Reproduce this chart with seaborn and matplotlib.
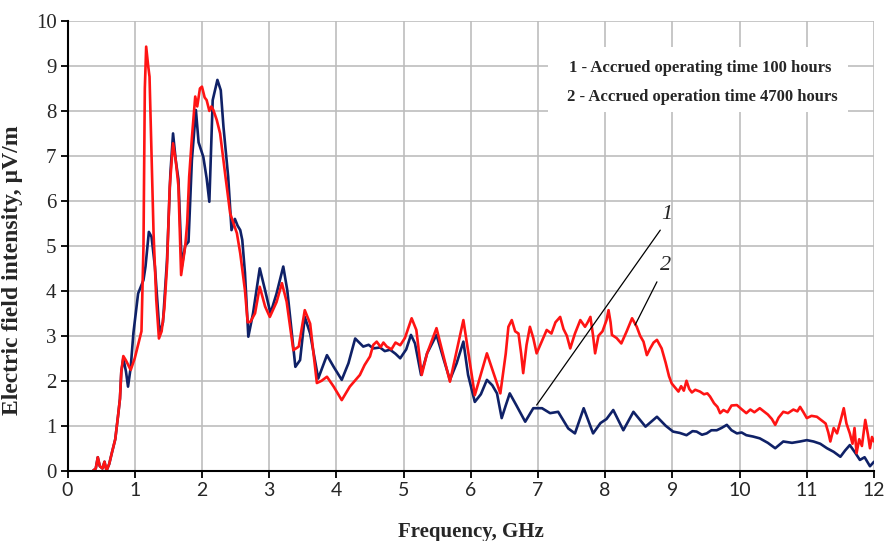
import matplotlib
matplotlib.use("Agg")
import matplotlib.pyplot as plt
from matplotlib import font_manager
from matplotlib.patches import Rectangle
import numpy as np
import pandas as pd
import seaborn as sns

# Spectrum after 100 hours of accrued operating time (curve 1)
freq_100h = [0.38, 0.42, 0.45, 0.48, 0.52, 0.55, 0.58, 0.62, 0.66, 0.71, 0.75, 0.78,
             0.80, 0.83, 0.87, 0.90, 0.94, 0.98, 1.05, 1.13, 1.16, 1.21, 1.25, 1.30,
             1.37, 1.42, 1.48, 1.53, 1.57, 1.61, 1.65, 1.70, 1.75, 1.80, 1.85, 1.91,
             1.95, 2.02, 2.07, 2.11, 2.16, 2.23, 2.28, 2.32, 2.39, 2.44, 2.49, 2.53,
             2.57, 2.60, 2.64, 2.69, 2.76, 2.86, 2.94, 3.02, 3.11, 3.21, 3.27, 3.39,
             3.46, 3.53, 3.61, 3.73, 3.86, 3.96, 4.08, 4.18, 4.28, 4.34, 4.40, 4.48,
             4.55, 4.65, 4.72, 4.80, 4.88, 4.95, 5.04, 5.11, 5.17, 5.26, 5.35, 5.49,
             5.60, 5.69, 5.79, 5.89, 5.96, 6.06, 6.15, 6.24, 6.32, 6.39, 6.46, 6.52,
             6.58, 6.68, 6.81, 6.93, 7.06, 7.18, 7.30, 7.45, 7.55, 7.68, 7.82, 7.93,
             8.02, 8.12, 8.27, 8.42, 8.60, 8.77, 8.90, 9.01, 9.11, 9.21, 9.30, 9.36,
             9.44, 9.51, 9.58, 9.66, 9.73, 9.81, 9.88, 9.96, 10.03, 10.10, 10.20,
             10.30, 10.42, 10.53, 10.65, 10.78, 10.90, 11.00, 11.10, 11.20, 11.30,
             11.40, 11.50, 11.57, 11.64, 11.72, 11.79, 11.86, 11.94, 12.00]
field_100h = [0.00, 0.05, 0.30, 0.10, 0.05, 0.20, 0.00, 0.15, 0.40, 0.70, 1.20, 1.60,
              2.20, 2.50, 2.20, 1.87, 2.30, 3.06, 3.94, 4.24, 4.54, 5.31, 5.20, 4.54,
              3.05, 3.30, 4.68, 6.60, 7.50, 6.90, 6.48, 4.54, 5.00, 5.09, 6.90, 8.02,
              7.30, 6.98, 6.50, 5.98, 8.24, 8.69, 8.46, 7.65, 6.54, 5.35, 5.60, 5.45,
              5.35, 5.13, 4.40, 2.98, 3.50, 4.50, 4.01, 3.50, 3.94, 4.54, 4.01, 2.31,
              2.46, 3.42, 3.05, 2.05, 2.57, 2.31, 2.02, 2.39, 2.94, 2.85, 2.76, 2.80,
              2.72, 2.74, 2.66, 2.69, 2.60, 2.50, 2.70, 3.02, 2.83, 2.13, 2.61, 3.02,
              2.46, 2.02, 2.39, 2.87, 2.13, 1.53, 1.70, 2.02, 1.90, 1.72, 1.17, 1.45,
              1.72, 1.45, 1.09, 1.39, 1.39, 1.28, 1.31, 0.94, 0.83, 1.39, 0.83, 1.06,
              1.15, 1.35, 0.90, 1.31, 0.98, 1.20, 1.00, 0.87, 0.84, 0.79, 0.88, 0.87,
              0.80, 0.83, 0.90, 0.90, 0.95, 1.02, 0.90, 0.83, 0.85, 0.79, 0.76,
              0.72, 0.62, 0.50, 0.65, 0.62, 0.65, 0.68, 0.65, 0.60, 0.50,
              0.42, 0.31, 0.45, 0.57, 0.40, 0.24, 0.30, 0.10, 0.20]

# Spectrum after 4700 hours of accrued operating time (curve 2)
freq_4700h = [0.38, 0.42, 0.45, 0.48, 0.52, 0.55, 0.58, 0.62, 0.66, 0.71, 0.75, 0.78,
              0.80, 0.83, 0.87, 0.94, 1.00, 1.05, 1.10, 1.13, 1.15, 1.17, 1.20, 1.22,
              1.25, 1.28, 1.32, 1.36, 1.40, 1.44, 1.48, 1.52, 1.57, 1.61, 1.65, 1.69,
              1.75, 1.78, 1.81, 1.85, 1.90, 1.93, 1.97, 2.00, 2.04, 2.07, 2.11, 2.14,
              2.17, 2.22, 2.27, 2.35, 2.42, 2.47, 2.52, 2.57, 2.64, 2.68, 2.72, 2.79,
              2.86, 2.94, 3.01, 3.11, 3.19, 3.26, 3.36, 3.44, 3.53, 3.61, 3.71, 3.78,
              3.86, 3.96, 4.08, 4.20, 4.35, 4.42, 4.50, 4.55, 4.60, 4.66, 4.70, 4.75,
              4.82, 4.88, 4.95, 5.02, 5.12, 5.19, 5.27, 5.35, 5.49, 5.69, 5.89, 6.06,
              6.24, 6.44, 6.52, 6.56, 6.61, 6.66, 6.71, 6.75, 6.78, 6.83, 6.88, 6.93,
              6.98, 7.05, 7.13, 7.20, 7.26, 7.33, 7.38, 7.43, 7.48, 7.55, 7.63, 7.70,
              7.74, 7.78, 7.82, 7.85, 7.90, 7.96, 8.02, 8.05, 8.08, 8.10, 8.17, 8.24,
              8.32, 8.40, 8.47, 8.52, 8.57, 8.62, 8.67, 8.72, 8.77, 8.84, 8.90, 8.95,
              8.99, 9.04, 9.09, 9.13, 9.17, 9.21, 9.25, 9.29, 9.34, 9.41, 9.47, 9.52,
              9.56, 9.62, 9.67, 9.71, 9.76, 9.82, 9.88, 9.96, 10.02, 10.10, 10.16,
              10.22, 10.30, 10.36, 10.42, 10.48, 10.53, 10.58, 10.65, 10.72, 10.80,
              10.86, 10.90, 10.95, 11.00, 11.07, 11.15, 11.22, 11.28, 11.32, 11.35,
              11.40, 11.45, 11.50, 11.55, 11.59, 11.64, 11.68, 11.71, 11.74, 11.78,
              11.82, 11.87, 11.91, 11.94, 11.97, 12.00]
field_4700h = [0.00, 0.05, 0.30, 0.10, 0.05, 0.20, 0.00, 0.15, 0.40, 0.70, 1.20, 1.60,
               2.20, 2.55, 2.45, 2.24, 2.50, 2.80, 3.10, 5.00, 8.50, 9.43, 9.00, 8.76,
               7.00, 5.28, 3.80, 2.94, 3.10, 3.60, 4.54, 6.30, 7.28, 6.90, 6.33, 4.35,
               4.98, 5.50, 6.54, 7.40, 8.32, 8.10, 8.50, 8.54, 8.30, 8.24, 8.00, 8.10,
               8.02, 7.80, 7.50, 6.54, 5.72, 5.50, 5.28, 4.83, 4.01, 3.30, 3.31, 3.50,
               4.09, 3.65, 3.42, 3.75, 4.17, 3.76, 2.68, 2.76, 3.57, 3.27, 1.95, 2.00,
               2.09, 1.87, 1.57, 1.87, 2.13, 2.35, 2.54, 2.80, 2.87, 2.75, 2.85, 2.76,
               2.70, 2.85, 2.79, 2.95, 3.39, 3.13, 2.13, 2.61, 3.17, 1.98, 3.35, 1.68,
               2.61, 1.72, 2.60, 3.20, 3.35, 3.10, 3.05, 2.60, 2.17, 2.80, 3.20, 2.95,
               2.61, 2.85, 3.13, 3.05, 3.30, 3.42, 3.15, 3.00, 2.72, 3.05, 3.35, 3.20,
               3.30, 3.42, 3.00, 2.61, 3.00, 3.10, 3.35, 3.57, 3.30, 3.02, 2.95, 2.83,
               3.10, 3.39, 3.20, 3.00, 2.87, 2.57, 2.72, 2.85, 2.91, 2.72, 2.40, 2.10,
               1.94, 1.85, 1.76, 1.88, 1.78, 2.00, 1.82, 1.74, 1.80, 1.76, 1.70, 1.72,
               1.65, 1.50, 1.42, 1.28, 1.35, 1.30, 1.45, 1.46, 1.38, 1.28, 1.36,
               1.30, 1.39, 1.32, 1.25, 1.15, 1.02, 1.18, 1.31, 1.28, 1.36,
               1.32, 1.42, 1.30, 1.17, 1.22, 1.20, 1.12, 1.05, 0.85, 0.65,
               0.95, 0.83, 1.10, 1.39, 1.05, 0.83, 0.60, 0.95, 0.39, 0.70,
               0.55, 1.13, 0.80, 0.50, 0.75, 0.65]

series_names = ["1", "2"]
legend_lines = ["1 - Accrued operating time 100 hours",
                "2 - Accrued operation time 4700 hours"]
x_ticks = list(range(0, 13))
y_ticks = list(range(0, 11))

df = pd.concat([
    pd.DataFrame({"freq": freq_100h, "field": field_100h, "curve": series_names[0]}),
    pd.DataFrame({"freq": freq_4700h, "field": field_4700h, "curve": series_names[1]}),
], ignore_index=True)

sns.set_theme(style="whitegrid")
installed = {f.name for f in font_manager.fontManager.ttflist}
serif = "Liberation Serif"
narrow = next((n for n in ["Liberation Sans Narrow", "Lato", "Open Sans"] if n in installed),
              "DejaVu Sans")
plt.rcParams["font.family"] = [serif, "DejaVu Serif"]

fig = plt.figure(figsize=(8.84, 5.41), dpi=100)
ax = fig.add_axes([0.0764, 0.1299, 0.9123, 0.8313])

sns.lineplot(data=df, x="freq", y="field", hue="curve", sort=False,
             palette={"1": "#0f2167", "2": "#ff1414"}, linewidth=1.9,
             legend=False, ax=ax, estimator=None)

ax.set_xlim(0, 12)
ax.set_ylim(0, 10)
ax.set_xticks(x_ticks)
ax.set_yticks(y_ticks)
ax.set_xticklabels([str(t) for t in x_ticks], fontfamily=narrow, fontsize=14)
ax.set_yticklabels([str(t) for t in y_ticks], fontfamily=serif, fontsize=15)

ax.grid(True, color="#bdbdbd", linewidth=1.2)
for side in ["top", "right"]:
    ax.spines[side].set_visible(False)
for side in ["left", "bottom"]:
    ax.spines[side].set_color("black")
    ax.spines[side].set_linewidth(1.5)
ax.tick_params(axis="both", which="major", direction="out", length=5, width=1.3,
               color="black", left=True, bottom=True, pad=3)

ax.set_xlabel("Frequency, GHz", fontfamily=serif, fontweight="bold", fontsize=15)
ax.set_ylabel("Electric field intensity, µV/m", fontfamily=serif, fontweight="bold",
              fontsize=17)
ax.xaxis.set_label_coords(0.5, -0.115)
ax.yaxis.set_label_coords(-0.055, 0.445)

# Legend panel with the two curve descriptions
ax.add_patch(Rectangle((7.15, 7.98), 4.46, 1.44, facecolor="white", edgecolor="none",
                       zorder=3))
ax.text(9.42, 8.95, legend_lines[0], ha="center", va="center", fontsize=12,
        fontweight="bold", fontfamily=serif, zorder=4)
ax.text(9.45, 8.32, legend_lines[1], ha="center", va="center", fontsize=12,
        fontweight="bold", fontfamily=serif, zorder=4)

# Leader lines pointing at each curve
ax.plot([8.82, 6.98], [5.35, 1.46], color="black", linewidth=0.9, zorder=5)
ax.plot([8.77, 8.445], [4.20, 3.24], color="black", linewidth=0.9, zorder=5)
ax.text(8.92, 5.69, "1", fontsize=16, fontstyle="italic", fontfamily=serif,
        ha="center", va="center", zorder=5)
ax.text(8.90, 4.57, "2", fontsize=16, fontstyle="italic", fontfamily=serif,
        ha="center", va="center", zorder=5)

fig.savefig("out.png", dpi=100)
